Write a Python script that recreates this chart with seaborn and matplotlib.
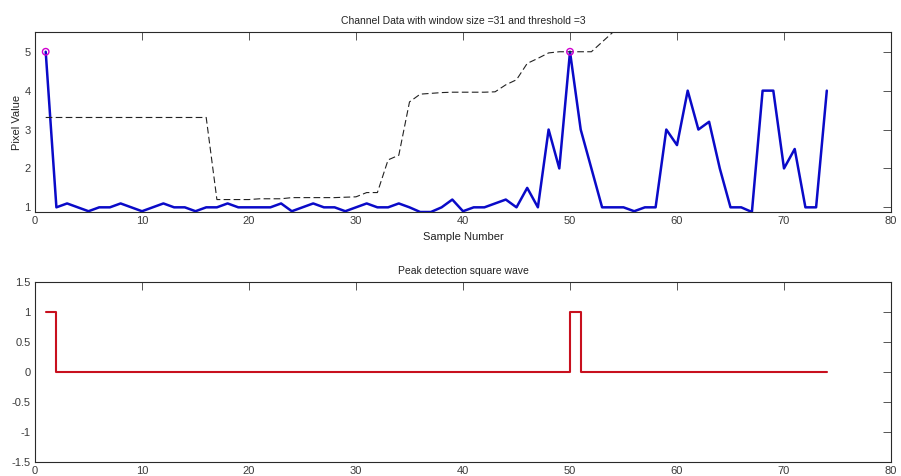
import numpy as np
import pandas as pd
import matplotlib
matplotlib.use("Agg")
import matplotlib.pyplot as plt
import seaborn as sns

# ---------------- data ----------------
sample = list(range(1, 75))
pixel_value = [5.0, 1.0, 1.1, 1.0, 0.9, 1.0, 1.0, 1.1, 1.0, 0.9,
               1.0, 1.1, 1.0, 1.0, 0.9, 1.0, 1.0, 1.1, 1.0, 1.0,
               1.0, 1.0, 1.1, 0.9, 1.0, 1.1, 1.0, 1.0, 0.9, 1.0,
               1.1, 1.0, 1.0, 1.1, 1.0, 0.88, 0.88, 1.0, 1.2, 0.9,
               1.0, 1.0, 1.1, 1.2, 1.0, 1.5, 1.0, 3.0, 2.0, 5.0,
               3.0, 2.0, 1.0, 1.0, 1.0, 0.9, 1.0, 1.0, 3.0, 2.6,
               4.0, 3.0, 3.2, 2.0, 1.0, 1.0, 0.88, 4.0, 4.0, 2.0,
               2.5, 1.0, 1.0, 4.0]

thr_sample = list(range(1, 57))
threshold_curve = [3.31] * 16 + [1.2, 1.2, 1.2, 1.2, 1.22, 1.22, 1.22,
                   1.25, 1.25, 1.25, 1.25, 1.25, 1.26, 1.27,
                   1.38, 1.38, 2.22, 2.34, 3.71, 3.91, 3.93, 3.95,
                   3.96, 3.96, 3.96, 3.96, 3.97, 4.15, 4.28, 4.70,
                   4.83, 4.97, 5.0, 5.0, 5.0, 5.0, 5.25, 5.5, 5.75, 6.0]

peak_x = [1, 50]
peak_y = [5.0, 5.0]

square_wave = [0] * 74
for p in peak_x:
    square_wave[p - 1] = 1

xticks = [0, 10, 20, 30, 40, 50, 60, 70, 80]
top_yticks = [1, 2, 3, 4, 5]
bot_yticks = [-1.5, -1, -0.5, 0, 0.5, 1, 1.5]
bot_yticklabels = ["-1.5", "-1", "-0.5", "0", "0.5", "1", "1.5"]

df_sig = pd.DataFrame({"x": sample, "y": pixel_value})
df_thr = pd.DataFrame({"x": thr_sample, "y": threshold_curve})
df_pk = pd.DataFrame({"x": peak_x, "y": peak_y})
df_sq = pd.DataFrame({"x": sample, "y": square_wave})

# ---------------- style ----------------
sns.set_style("white")
plt.rcParams["font.family"] = ["Liberation Sans", "DejaVu Sans"]
plt.rcParams["font.size"] = 8

W, H = 901, 476
fig = plt.figure(figsize=(W / 100, H / 100), dpi=100)
fig.patch.set_facecolor("white")

def px_axes(l, t, r, b):
    return fig.add_axes([l / W, 1 - b / H, (r - l) / W, (b - t) / H])

ax1 = px_axes(35, 32.3, 891, 212)
ax2 = px_axes(35, 282.3, 891, 462)

tick_col = "#3a3a3a"
for ax in (ax1, ax2):
    for s in ax.spines.values():
        s.set_color("#2a2a2a")
        s.set_linewidth(0.8)
        s.set_visible(True)
    ax.tick_params(direction="in", length=6, width=0.7, color="#555555",
                   labelcolor=tick_col, labelsize=8, top=True, right=True,
                   pad=3)
    ax.set_facecolor("white")

# top plot
sns.lineplot(data=df_sig, x="x", y="y", ax=ax1, color="#0a0ac8",
             linewidth=1.8, estimator=None, sort=False)
sns.lineplot(data=df_thr, x="x", y="y", ax=ax1, color="#222222",
             linewidth=0.8, estimator=None, sort=False, dashes=False,
             linestyle=(0, (6, 3)))
sns.scatterplot(data=df_pk, x="x", y="y", ax=ax1, marker="o", s=22,
                facecolors="none", edgecolor="#d000d0", linewidth=1.0,
                zorder=5)
ax1.set_xlim(0, 80)
ax1.set_ylim(min(pixel_value), 1.1 * max(pixel_value))
ax1.set_xticks(xticks)
ax1.set_yticks(top_yticks)
ax1.set_xlabel("Sample Number", fontsize=8, color="#222222", labelpad=4)
ax1.set_ylabel("Pixel Value", fontsize=8, color="#222222", labelpad=2)
ax1.set_title("Channel Data with window size =31 and threshold =3",
              fontsize=7.5, color="#222222", pad=6)

# bottom plot
sns.lineplot(data=df_sq, x="x", y="y", ax=ax2, color="#c8101e",
             linewidth=1.5, estimator=None, sort=False,
             drawstyle="steps-post")
ax2.set_xlim(0, 80)
ax2.set_ylim(-1.5, 1.5)
ax2.set_xticks(xticks)
ax2.set_yticks(bot_yticks)
ax2.set_yticklabels(bot_yticklabels)
ax2.set_xlabel("")
ax2.set_ylabel("")
ax2.set_title("Peak detection square wave", fontsize=7.5, color="#222222",
              pad=6)

fig.savefig("out.png", dpi=100, facecolor="white")
